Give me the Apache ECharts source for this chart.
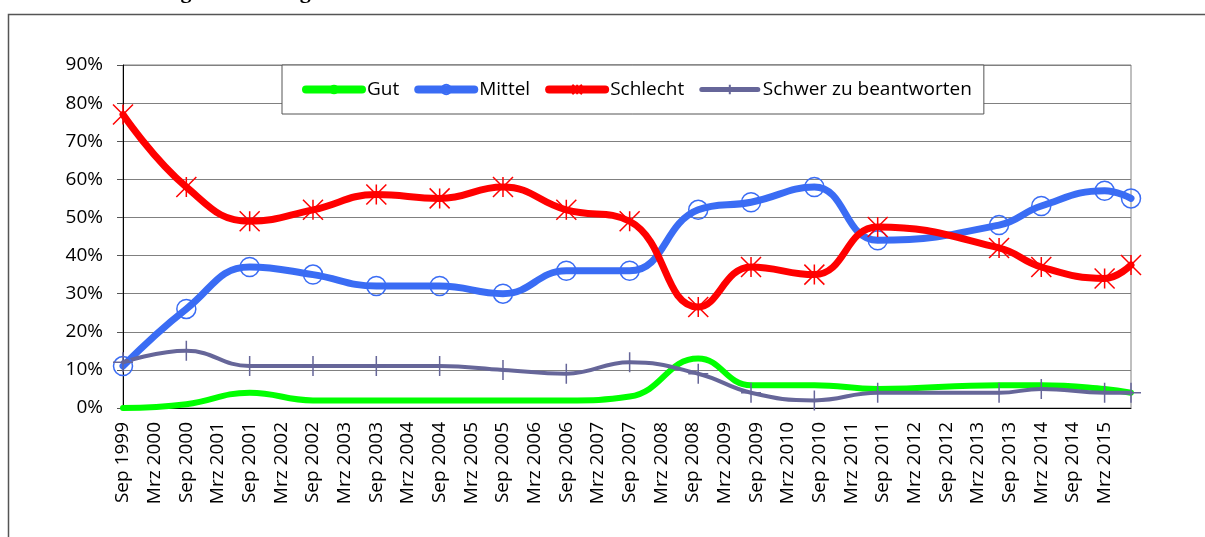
<!DOCTYPE html>
<html>
<head>
<meta charset="utf-8">
<script src="https://cdn.jsdelivr.net/npm/echarts@6/dist/echarts.min.js"></script>
<style>
html,body{margin:0;padding:0;background:#fff;}
#chart{width:1205px;height:537px;}
</style>
</head>
<body>
<div id="chart"></div>
<script>
// Survey dates (YYYY-MM)
var surveyDates = ['1999-09','2000-09','2001-09','2002-09','2003-09','2004-09','2005-09','2006-09','2007-09','2008-10','2009-08','2010-08','2011-08','2013-07','2014-03','2015-03','2015-08'];
// Series values (%)
var gut      = [0, 1, 4, 2, 2, 2, 2, 2, 3, 13, 6, 6, 5, 6, 6, 5, 4];
var mittel   = [11, 26, 37, 35, 32, 32, 30, 36, 36, 52, 54, 58, 44, 48, 53, 57, 55];
var schlecht = [77, 58, 49, 52, 56, 55, 58, 52, 49, 26.5, 37, 35, 47.5, 42, 37, 34, 37.5];
var schwer   = [12, 15, 11, 11, 11, 11, 10, 9, 12, 9, 4, 2, 4, 4, 5, 4, 4];
// Tick labels (every 6 months from Sep 1999)
var tickLabels = ['Sep 1999','Mrz 2000','Sep 2000','Mrz 2001','Sep 2001','Mrz 2002','Sep 2002','Mrz 2003','Sep 2003','Mrz 2004','Sep 2004','Mrz 2005','Sep 2005','Mrz 2006','Sep 2006','Mrz 2007','Sep 2007','Mrz 2008','Sep 2008','Mrz 2009','Sep 2009','Mrz 2010','Sep 2010','Mrz 2011','Sep 2011','Mrz 2012','Sep 2012','Mrz 2013','Sep 2013','Mrz 2014','Sep 2014','Mrz 2015'];
var seriesNames = ['Gut','Mittel','Schlecht','Schwer zu beantworten'];

function monthOffset(s){
  var p = s.split('-');
  return (parseInt(p[0],10)-1999)*12 + (parseInt(p[1],10)-9);
}
var xs = surveyDates.map(monthOffset);
function pairs(vals){ return vals.map(function(v,i){ return [xs[i], v]; }); }

var FONT = 'Open Sans';
var chart = echarts.init(document.getElementById('chart'), null, {renderer:'canvas'});
var option = {
  animation:false,
  backgroundColor:'#fff',
  textStyle:{fontFamily:FONT},
  graphic:[
    {type:'rect', shape:{x:8.5,y:14.5,width:1300,height:600}, style:{fill:'none',stroke:'#555',lineWidth:1.5}, silent:true, z:-1},
    {type:'text', left:150, top:-19, style:{text:'vergleichsweise gesehen wird.', font:'bold 22px "Liberation Serif"', fill:'#000'}, silent:true}
  ],
  grid:{left:123, right:74, top:65, bottom:129, show:true, borderColor:'#808080', borderWidth:1, backgroundColor:'transparent'},
  legend:{
    data:[
      {name:seriesNames[0], lineStyle:{width:8, cap:'round'}},
      {name:seriesNames[1], lineStyle:{width:8, cap:'round'}},
      {name:seriesNames[2], lineStyle:{width:8, cap:'round'}},
      {name:seriesNames[3], lineStyle:{width:5, cap:'round'}}
    ],
    left:282, top:65,
    padding:[15,12,15,20],
    itemWidth:56, itemHeight:12, itemGap:15,
    backgroundColor:'#fff', borderColor:'#555', borderWidth:1,
    textStyle:{fontFamily:FONT, fontSize:19, color:'#000'},
    z:10
  },
  xAxis:{
    type:'value', min:0, max:191, interval:6,
    axisLine:{show:true, lineStyle:{color:'#000', width:1}},
    axisTick:{show:false},
    splitLine:{show:false},
    axisLabel:{
      rotate:90, margin:14, fontSize:19, color:'#000', fontFamily:FONT,
      showMaxLabel:false,
      formatter:function(v){ var i = Math.round(v/6); return (v%6===0 && i<tickLabels.length) ? tickLabels[i] : ''; }
    }
  },
  yAxis:{
    type:'value', min:0, max:90, interval:10,
    axisLine:{show:true, lineStyle:{color:'#000', width:1}},
    axisTick:{show:true, length:6, lineStyle:{color:'#555'}},
    splitLine:{show:true, lineStyle:{color:'#808080', width:1}},
    axisLabel:{formatter:'{value}%', fontSize:19, color:'#000', margin:20, fontFamily:FONT}
  },
  series:[
    {name:seriesNames[0], type:'line', data:pairs(gut), smooth:0.45, clip:false,
     showSymbol:false, symbol:'none',
     color:'#00ff00',
     lineStyle:{color:'#00ff00', width:6, cap:'round'}},
    {name:seriesNames[1], type:'line', data:pairs(mittel), smooth:0.45, clip:false,
     symbol:'circle', symbolSize:19,
     color:'#3a6cf4',
     itemStyle:{color:'rgba(0,0,0,0)', borderColor:'#3a6cf4', borderWidth:1.5},
     lineStyle:{color:'#3a6cf4', width:7, cap:'round'}},
    {name:seriesNames[2], type:'line', data:pairs(schlecht), smooth:0.45, clip:false,
     symbol:'path://M0,0L10,10M10,0L0,10M5,0L5,10', symbolSize:20,
     color:'#ff0000',
     itemStyle:{color:'rgba(0,0,0,0)', borderColor:'#ff0000', borderWidth:1.5},
     lineStyle:{color:'#ff0000', width:7, cap:'round'}},
    {name:seriesNames[3], type:'line', data:pairs(schwer), smooth:0.45, clip:false,
     symbol:'path://M5,0L5,10M0,5L10,5', symbolSize:20,
     color:'#666699',
     itemStyle:{color:'rgba(0,0,0,0)', borderColor:'#666699', borderWidth:1.5},
     lineStyle:{color:'#666699', width:4, cap:'round'}}
  ]
};
chart.setOption(option);
</script>
</body>
</html>
